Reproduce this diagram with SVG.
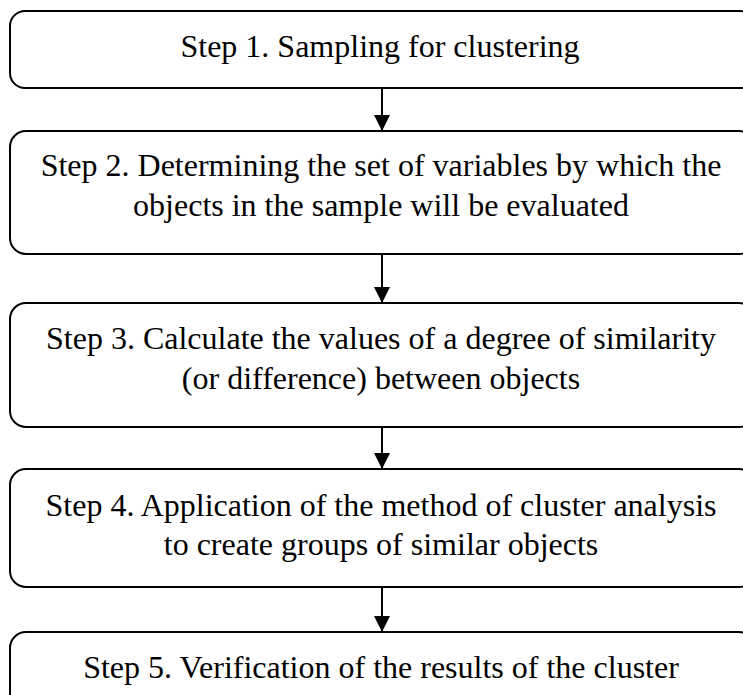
<svg xmlns="http://www.w3.org/2000/svg" width="743" height="695" viewBox="0 0 743 695">
<style>
.box{fill:#fff;stroke:#000;stroke-width:2}
.t{font-family:"Liberation Serif","Times New Roman",serif;font-size:32px;fill:#000;text-anchor:middle}
.c{stroke:#000;stroke-width:2;fill:none}
</style>
<defs>
<marker id="ah" viewBox="0 0 16 18" refX="16" refY="9" markerWidth="16" markerHeight="18" markerUnits="userSpaceOnUse" orient="auto">
<path d="M0,1 L16,9 L0,17 Z" fill="#000"/>
</marker>
</defs>
<rect width="743" height="695" fill="#fff"/>
<g id="connectors">
<line class="c" x1="382" y1="88" x2="382" y2="131" marker-end="url(#ah)"/>
<line class="c" x1="382" y1="254" x2="382" y2="303" marker-end="url(#ah)"/>
<line class="c" x1="382" y1="427" x2="382" y2="469" marker-end="url(#ah)"/>
<line class="c" x1="382" y1="587" x2="382" y2="632" marker-end="url(#ah)"/>
</g>
<g id="step1">
<rect class="box" x="10" y="11" width="745" height="77" rx="15"/>
<text class="t" x="380" y="57">Step 1. Sampling for clustering</text>
</g>
<g id="step2">
<rect class="box" x="10" y="131" width="745" height="123" rx="16"/>
<text class="t" x="381" y="176">Step 2. Determining the set of variables by which the</text>
<text class="t" x="381" y="216">objects in the sample will be evaluated</text>
</g>
<g id="step3">
<rect class="box" x="10" y="303" width="745" height="124" rx="16"/>
<text class="t" x="381" y="349">Step 3. Calculate the values of a degree of similarity</text>
<text class="t" x="381" y="389">(or difference) between objects</text>
</g>
<g id="step4">
<rect class="box" x="10" y="469" width="745" height="118" rx="16"/>
<text class="t" x="381" y="516">Step 4. Application of the method of cluster analysis</text>
<text class="t" x="381" y="555">to create groups of similar objects</text>
</g>
<g id="step5">
<rect class="box" x="10" y="632" width="745" height="80" rx="16"/>
<text class="t" x="381" y="678">Step 5. Verification of the results of the cluster</text>
</g>
</svg>
